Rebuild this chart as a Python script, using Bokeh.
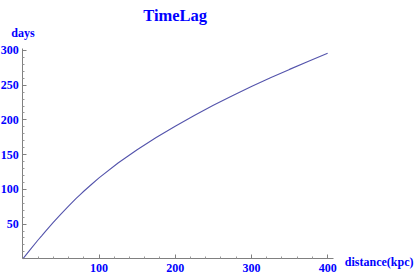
from bokeh.plotting import figure
from bokeh.models import Range1d, FixedTicker, Label
from bokeh.embed import file_html
from bokeh.resources import INLINE

# data
distance = [0, 10, 20, 25, 30, 40, 50, 60, 70, 75, 80, 90, 100, 125, 150, 175,
            200, 225, 250, 275, 300, 325, 350, 375, 400]
days = [0, 13.7, 27.1, 33.5, 40, 52.6, 64.5, 76, 87, 92.2, 97.3, 107, 116.5,
        138, 157, 174.6, 191, 206.5, 221, 234.8, 248, 260.6, 272.8, 284.6, 296]

x_ticks = [100, 200, 300, 400]
x_minor = [20, 40, 60, 80, 120, 140, 160, 180, 220, 240, 260, 280, 320, 340, 360, 380]
y_ticks = [50, 100, 150, 200, 250, 300]
y_minor = [v for v in range(10, 301, 10) if v % 50 != 0]

title_text = "TimeLag"
x_label = "distance(kpc)"
y_label = "days"

BLUE = "#0000ff"
AXIS = "#808080"
FONT = "Liberation Serif"

p = figure(width=414, height=276,
           x_range=Range1d(-29.27, 514.0), y_range=Range1d(-25.49, 372.0),
           min_border=0, min_border_left=0, min_border_right=0,
           min_border_top=0, min_border_bottom=0,
           output_backend="svg", toolbar_location=None)
p.outline_line_color = None
p.grid.visible = False
p.background_fill_color = "white"
p.border_fill_color = "white"

p.xaxis.ticker = FixedTicker(ticks=x_ticks, minor_ticks=x_minor)
p.yaxis.ticker = FixedTicker(ticks=y_ticks, minor_ticks=y_minor)
p.xaxis.fixed_location = 0
p.yaxis.fixed_location = 0
p.xaxis.bounds = (0, 408)
p.yaxis.bounds = (0, 303)

for ax in (p.xaxis, p.yaxis):
    ax.axis_line_color = AXIS
    ax.axis_line_width = 1
    ax.major_tick_line_color = AXIS
    ax.minor_tick_line_color = "#999999"
    ax.major_tick_in = 4
    ax.major_tick_out = 0
    ax.minor_tick_in = 2
    ax.minor_tick_out = 0
    ax.major_label_text_font = FONT
    ax.major_label_text_font_style = "bold"
    ax.major_label_text_font_size = "12px"
    ax.major_label_text_color = BLUE
p.xaxis.major_label_standoff = 5
p.yaxis.major_label_standoff = 4

p.line(distance, days, line_color="#5454ac", line_width=1.1)

p.add_layout(Label(x=158, y=351, text=title_text, text_font=FONT,
                   text_font_style="bold", text_font_size="16.5px",
                   text_color=BLUE, text_baseline="alphabetic"))
p.add_layout(Label(x=-15.2, y=324.5, text=y_label, text_font=FONT,
                   text_font_style="bold", text_font_size="12px",
                   text_color=BLUE, text_baseline="alphabetic"))
p.add_layout(Label(x=422.6, y=-3.9, text=x_label, text_font=FONT,
                   text_font_style="bold", text_font_size="12px",
                   text_color=BLUE, text_baseline="alphabetic"))

open("out.html", "w").write(file_html(p, INLINE))
